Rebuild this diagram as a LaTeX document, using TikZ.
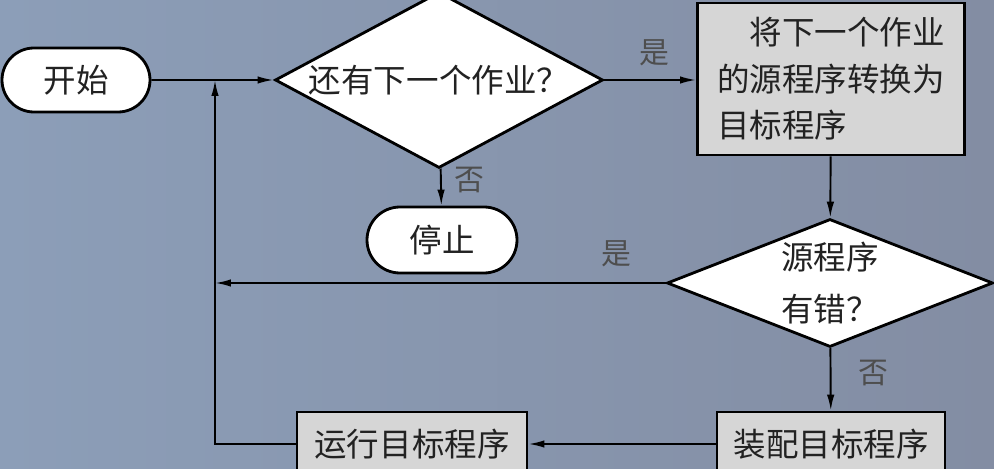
\documentclass[tikz,border=0pt]{standalone}
\usepackage{fontspec}
\newfontfamily\cjk{Noto Sans CJK SC}
\usetikzlibrary{shapes.geometric,shapes.misc,arrows.meta}
\newlength\px
\setlength\px{0.02cm}
\definecolor{bgleft}{RGB}{140,158,184}
\definecolor{bgright}{RGB}{131,141,163}
\definecolor{boxgrey}{RGB}{214,214,214}
\definecolor{inkgrey}{RGB}{34,34,34}
\begin{document}
\begin{tikzpicture}
    [
    x=0.02cm, y=-0.02cm,
    every node/.style={font=\cjk\fontsize{18.5}{26.5}\selectfont, text=inkgrey},
    terminal/.style={rounded rectangle,draw,line width=1.6pt,fill=white,inner sep=0pt},
    decision/.style={diamond,draw,line width=1.6pt,fill=white,inner sep=0pt},
    process/.style={rectangle,draw,line width=1.6pt,fill=boxgrey,inner sep=0pt},
    flow/.style={line width=1.1pt,-{Latex[length=3.2mm,width=1.5mm]}},
    answer/.style={font=\cjk\fontsize{17}{20}\selectfont, text=inkgrey!80}
    ]
    \shade [left color=bgleft, right color=bgright] (0,0) rectangle (994,469);
    \useasboundingbox (0,0) rectangle (994,469);

    \node (start) at (76,80) [terminal,minimum width=148\px,minimum height=64\px] {开始};
    \node (more) at (439,80) [decision,minimum width=328\px,minimum height=176\px,
      label=center:{还有下一个作业？}] {};
    \node (stop) at (442,240) [terminal,minimum width=150\px,minimum height=66\px] {停止};
    \node (convert) at (831,79) [process,minimum width=267\px,minimum height=152\px,align=left]
      {\hspace{1em}将下一个作业\\的源程序转换为\\目标程序};
    \node (error) at (830,283) [decision,minimum width=326\px,minimum height=128\px,
      label=center:{\parbox{3em}{\centering 源程序\\[3pt]有错？}}] {};
    \node (load) at (831,444) [process,minimum width=228\px,minimum height=64\px] {装配目标程序};
    \node (run) at (412,444) [process,minimum width=230\px,minimum height=64\px] {运行目标程序};
    \coordinate (join) at (215,80);
    \coordinate (back) at (215,283);
    \coordinate (corner) at (215,444);

    \draw [flow] (start) to (more);
    \draw [flow] (more) to node [answer,right=4pt,pos=0.3] {否} (stop);
    \draw [flow] (more.east) to node [answer,above=4pt,pos=0.55] {是} (more.east -| convert.west);
    \draw [flow] (convert) to (error);
    \draw [flow] (error.west) to node [answer,above=5pt,pos=0.11] {是} (back);
    \draw [flow] (error) to node [answer,right=12pt,pos=0.4] {否} (load);
    \draw [flow] (load) to (run);
    \draw [flow] (run.west) -- (corner) -- (join);
  \end{tikzpicture}
\end{document}
